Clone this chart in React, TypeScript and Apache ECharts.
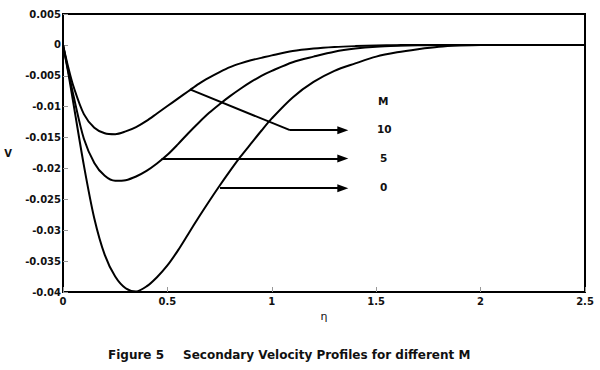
import React, { useEffect, useRef } from "react";
import * as echarts from "echarts";

// Secondary velocity profiles V(η) for different M
const etaValues = [
  0, 0.025, 0.05, 0.1, 0.15, 0.2, 0.25, 0.3, 0.35, 0.4, 0.45, 0.5, 0.55, 0.6, 0.65, 0.7, 0.75,
  0.8, 0.85, 0.9, 0.95, 1.0, 1.1, 1.2, 1.3, 1.4, 1.5, 1.6, 1.7, 1.8, 1.9, 2.0, 2.2, 2.5,
];
const vM0 = [
  0, -0.0045, -0.0095, -0.0195, -0.0281, -0.034, -0.0375, -0.0394, -0.0399, -0.0391, -0.0376,
  -0.0357, -0.0333, -0.0306, -0.0279, -0.0253, -0.0228, -0.0204, -0.0181, -0.016, -0.0139,
  -0.0119, -0.0085, -0.006, -0.0042, -0.003, -0.0019, -0.0012, -0.0007, -0.0003, -0.0001,
  0, 0, 0,
];
const vM5 = [
  0, -0.0042, -0.0082, -0.0152, -0.0191, -0.0212, -0.022, -0.0219, -0.0213, -0.0204, -0.0192,
  -0.0178, -0.0161, -0.0143, -0.0126, -0.011, -0.0096, -0.0083, -0.0071, -0.006, -0.005,
  -0.0042, -0.0028, -0.0019, -0.0011, -0.0006, -0.0003, -0.00015, -0.00007, -0.00002, 0,
  0, 0, 0,
];
const vM10 = [
  0, -0.0036, -0.0067, -0.0112, -0.0134, -0.0143, -0.01445, -0.014, -0.0133, -0.0123, -0.0111,
  -0.0099, -0.0087, -0.0075, -0.0063, -0.0053, -0.0044, -0.0036, -0.003, -0.0025, -0.0021,
  -0.0017, -0.001, -0.0006, -0.00035, -0.0002, -0.0001, -0.00004, 0, 0, 0, 0, 0, 0,
];

// Annotation arrows (data coordinates)
const arrowM10: [number, number][] = [[0.608, -0.0072], [1.087, -0.0138], [1.34, -0.0138]];
const arrowM5: [number, number][] = [[0.472, -0.0184], [1.34, -0.0184]];
const arrowM0: [number, number][] = [[0.752, -0.0232], [1.34, -0.0232]];

const legendTitle = "M";
const legendLabels = ["10", "5", "0"];
const xAxisName = "η";
const yAxisName = "V";
const captionA = "Figure 5";
const captionB = "Secondary Velocity Profiles for different M";

export default function App() {
  const ref = useRef<HTMLDivElement>(null);
  useEffect(() => {
    if (!ref.current) return;
    const chart = echarts.init(ref.current, undefined, { renderer: "svg" });
    const lineStyle = { color: "#000", width: 2 };
    const pair = (vals: number[]) => etaValues.map((e, i) => [e, vals[i]]);
    const curve = (name: string, vals: number[]) => ({
      name,
      type: "line",
      data: pair(vals),
      smooth: 0.3,
      showSymbol: false,
      symbol: "none",
      lineStyle,
      silent: true,
    });
    const seg = (a: [number, number], b: [number, number], arrow: boolean) => [
      { coord: a, symbol: "none" },
      { coord: b, symbol: arrow ? "triangle" : "none", symbolSize: [8, 11] },
    ];
    const labelFont = {
      fontFamily: "DejaVu Sans",
      fontWeight: "bold" as const,
      fontSize: 10,
      color: "#111",
    };
    const textFont = "bold 10.5px 'DejaVu Sans'";
    const capFont = "bold 12px 'DejaVu Sans'";
    chart.setOption({
      animation: false,
      grid: {
        left: 63,
        right: 15,
        top: 14,
        bottom: 78,
        show: true,
        borderColor: "#000",
        borderWidth: 2,
      },
      xAxis: {
        type: "value",
        min: 0,
        max: 2.5,
        interval: 0.5,
        name: xAxisName,
        nameLocation: "middle",
        nameGap: 7,
        nameTextStyle: { fontFamily: "DejaVu Sans", fontSize: 11, color: "#111" },
        axisLine: { onZero: false, lineStyle: { color: "#000", width: 2 } },
        axisTick: { inside: true, length: 5, lineStyle: { color: "#999" } },
        axisLabel: { ...labelFont, margin: 4 },
        splitLine: { show: false },
      },
      yAxis: {
        type: "value",
        min: -0.04,
        max: 0.005,
        interval: 0.005,
        name: yAxisName,
        nameLocation: "middle",
        nameRotate: 0,
        nameGap: 51,
        nameTextStyle: { ...labelFont },
        axisLine: { show: true, onZero: false, lineStyle: { color: "#000", width: 2 } },
        axisTick: { show: true, inside: true, length: 5, lineStyle: { color: "#999" } },
        axisLabel: {
          ...labelFont,
          margin: 2,
          formatter: (v: number) => String(Math.round(v * 1000) / 1000),
        },
        splitLine: { show: false },
      },
      series: [
        curve("M=0", vM0),
        curve("M=5", vM5),
        {
          ...curve("M=10", vM10),
          markLine: {
            silent: true,
            animation: false,
            label: { show: false },
            lineStyle: { color: "#000", width: 2, type: "solid" },
            symbol: ["none", "none"],
            data: [
              seg(arrowM10[0], arrowM10[1], false),
              seg(arrowM10[1], arrowM10[2], true),
              seg(arrowM5[0], arrowM5[1], true),
              seg(arrowM0[0], arrowM0[1], true),
            ],
          },
        },
      ],
      graphic: [
        { type: "text", left: 378, top: 95, style: { text: legendTitle, font: textFont, fill: "#111" } },
        { type: "text", left: 377, top: 123, style: { text: legendLabels[0], font: textFont, fill: "#111" } },
        { type: "text", left: 380, top: 152, style: { text: legendLabels[1], font: textFont, fill: "#111" } },
        { type: "text", left: 380, top: 181, style: { text: legendLabels[2], font: textFont, fill: "#111" } },
        { type: "text", left: 108, top: 349, style: { text: captionA, font: capFont, fill: "#111" } },
        { type: "text", left: 183, top: 349, style: { text: captionB, font: capFont, fill: "#111" } },
      ],
    });
    return () => chart.dispose();
  }, []);
  return (
    <div
      ref={ref}
      style={{ position: "absolute", left: 0, top: 0, width: 600, height: 370, background: "#fff" }}
    />
  );
}
